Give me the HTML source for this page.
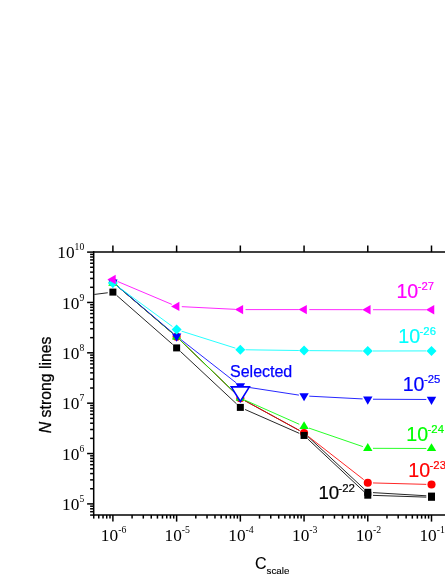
<!DOCTYPE html>
<html><head><meta charset="utf-8"><title>chart</title>
<style>
html,body{margin:0;padding:0;background:#fff;}
body{width:445px;height:576px;overflow:hidden;font-family:"Liberation Sans",sans-serif;}
svg{display:block;}
#wrap{width:445px;height:576px;will-change:transform;}
</style></head><body>
<div id="wrap"><svg width="445" height="576" viewBox="0 0 445 576">
<rect width="445" height="576" fill="#fff"/>
<g id="lines" fill="none">
<line x1="116.85" y1="285.68" x2="172.67" y2="333.42" stroke="#000" stroke-width="0.85"/>
<line x1="180.36" y1="340.41" x2="236.6" y2="394.59" stroke="#000" stroke-width="0.85"/>
<line x1="244.9" y1="400.69" x2="299.5" y2="430.51" stroke="#000" stroke-width="0.85"/>
<line x1="307.87" y1="436.54" x2="363.97" y2="488.76" stroke="#000" stroke-width="0.85"/>
<line x1="372.97" y1="492.61" x2="426.31" y2="495.79" stroke="#000" stroke-width="0.85"/>
<line x1="116.81" y1="295.53" x2="172.71" y2="344.47" stroke="#000" stroke-width="0.85"/>
<line x1="180.42" y1="351.45" x2="236.54" y2="403.85" stroke="#000" stroke-width="0.85"/>
<line x1="245.1" y1="409.5" x2="299.3" y2="433.35" stroke="#000" stroke-width="0.85"/>
<line x1="307.85" y1="439.01" x2="363.99" y2="491.64" stroke="#000" stroke-width="0.85"/>
<line x1="372.98" y1="495.37" x2="426.3" y2="497.13" stroke="#000" stroke-width="0.85"/>
<line x1="116.85" y1="285.68" x2="172.67" y2="333.42" stroke="#ff0000" stroke-width="0.85"/>
<line x1="180.36" y1="340.41" x2="236.6" y2="394.59" stroke="#ff0000" stroke-width="0.85"/>
<line x1="244.9" y1="400.7" x2="299.5" y2="430.6" stroke="#ff0000" stroke-width="0.85"/>
<line x1="308.16" y1="436.3" x2="363.68" y2="479.6" stroke="#ff0000" stroke-width="0.85"/>
<line x1="372.98" y1="482.94" x2="426.3" y2="484.36" stroke="#ff0000" stroke-width="0.85"/>
<line x1="116.85" y1="285.58" x2="172.67" y2="333.32" stroke="#00ff00" stroke-width="0.85"/>
<line x1="180.36" y1="340.31" x2="236.6" y2="394.49" stroke="#00ff00" stroke-width="0.85"/>
<line x1="245.09" y1="400.21" x2="299.31" y2="424.29" stroke="#00ff00" stroke-width="0.85"/>
<line x1="308.98" y1="428.09" x2="362.86" y2="446.61" stroke="#00ff00" stroke-width="0.85"/>
<line x1="372.98" y1="448.32" x2="426.3" y2="448.48" stroke="#00ff00" stroke-width="0.85"/>
<line x1="116.87" y1="285.56" x2="172.65" y2="332.84" stroke="#0000ff" stroke-width="0.85"/>
<line x1="180.71" y1="339.41" x2="236.25" y2="382.89" stroke="#0000ff" stroke-width="0.85"/>
<line x1="245.48" y1="386.89" x2="298.92" y2="395.11" stroke="#0000ff" stroke-width="0.85"/>
<line x1="309.25" y1="396.17" x2="362.59" y2="398.93" stroke="#0000ff" stroke-width="0.85"/>
<line x1="372.98" y1="399.22" x2="426.3" y2="399.48" stroke="#0000ff" stroke-width="0.85"/>
<line x1="117.09" y1="285.97" x2="172.43" y2="326.53" stroke="#00ffff" stroke-width="0.85"/>
<line x1="181.58" y1="331.16" x2="235.38" y2="348.14" stroke="#00ffff" stroke-width="0.85"/>
<line x1="245.54" y1="349.77" x2="298.86" y2="350.53" stroke="#00ffff" stroke-width="0.85"/>
<line x1="309.26" y1="350.63" x2="362.58" y2="350.97" stroke="#00ffff" stroke-width="0.85"/>
<line x1="372.98" y1="350.99" x2="426.3" y2="350.91" stroke="#00ffff" stroke-width="0.85"/>
<line x1="117.69" y1="281.52" x2="171.83" y2="304.38" stroke="#ff00ff" stroke-width="0.85"/>
<line x1="181.81" y1="306.66" x2="235.15" y2="309.34" stroke="#ff00ff" stroke-width="0.85"/>
<line x1="245.54" y1="309.6" x2="298.86" y2="309.6" stroke="#ff00ff" stroke-width="0.85"/>
<line x1="309.26" y1="309.61" x2="362.58" y2="309.69" stroke="#ff00ff" stroke-width="0.85"/>
<line x1="372.98" y1="309.71" x2="426.3" y2="309.79" stroke="#ff00ff" stroke-width="0.85"/>
<line x1="107.74" y1="292.75" x2="94.3" y2="294.45" stroke="#000" stroke-width="0.85"/>
<rect x="364.28" y="488.8" width="7" height="7" fill="#000"/>
<rect x="428" y="492.6" width="7" height="7" fill="#000"/>
<circle cx="112.9" cy="282.3" r="4.05" fill="#ff0000"/>
<circle cx="176.62" cy="336.8" r="4.05" fill="#ff0000"/>
<circle cx="240.34" cy="398.2" r="4.05" fill="#ff0000"/>
<circle cx="304.06" cy="433.1" r="4.05" fill="#ff0000"/>
<circle cx="367.78" cy="482.8" r="4.05" fill="#ff0000"/>
<circle cx="431.5" cy="484.5" r="4.05" fill="#ff0000"/>
<path d="M112.9,278 L117.6,285.8 L108.2,285.8 Z" fill="#00ff00"/>
<path d="M176.62,331.8 L181.32,339.6 L171.92,339.6 Z" fill="#00ff00"/>
<path d="M240.34,392.9 L245.04,400.7 L235.64,400.7 Z" fill="#00ff00"/>
<path d="M304.06,421.2 L308.76,429 L299.36,429 Z" fill="#00ff00"/>
<path d="M367.78,443.1 L372.48,450.9 L363.08,450.9 Z" fill="#00ff00"/>
<path d="M431.5,443.3 L436.2,451.1 L426.8,451.1 Z" fill="#00ff00"/>
<path d="M112.9,287.67 L117.6,279.47 L108.2,279.47 Z" fill="#0000ff"/>
<path d="M176.62,341.67 L181.32,333.47 L171.92,333.47 Z" fill="#0000ff"/>
<path d="M240.34,391.57 L245.04,383.37 L235.64,383.37 Z" fill="#0000ff"/>
<path d="M304.06,401.37 L308.76,393.17 L299.36,393.17 Z" fill="#0000ff"/>
<path d="M367.78,404.67 L372.48,396.47 L363.08,396.47 Z" fill="#0000ff"/>
<path d="M431.5,404.97 L436.2,396.77 L426.8,396.77 Z" fill="#0000ff"/>
<path d="M112.9,277.9 L117.9,282.9 L112.9,287.9 L107.9,282.9 Z" fill="#00ffff"/>
<path d="M176.62,324.6 L181.62,329.6 L176.62,334.6 L171.62,329.6 Z" fill="#00ffff"/>
<path d="M240.34,344.7 L245.34,349.7 L240.34,354.7 L235.34,349.7 Z" fill="#00ffff"/>
<path d="M304.06,345.6 L309.06,350.6 L304.06,355.6 L299.06,350.6 Z" fill="#00ffff"/>
<path d="M367.78,346 L372.78,351 L367.78,356 L362.78,351 Z" fill="#00ffff"/>
<path d="M431.5,345.9 L436.5,350.9 L431.5,355.9 L426.5,350.9 Z" fill="#00ffff"/>
<path d="M107.37,279.5 L115.67,274.8 L115.67,284.2 Z" fill="#ff00ff"/>
<path d="M171.09,306.4 L179.39,301.7 L179.39,311.1 Z" fill="#ff00ff"/>
<path d="M234.81,309.6 L243.11,304.9 L243.11,314.3 Z" fill="#ff00ff"/>
<path d="M298.53,309.6 L306.83,304.9 L306.83,314.3 Z" fill="#ff00ff"/>
<path d="M362.25,309.7 L370.55,305 L370.55,314.4 Z" fill="#ff00ff"/>
<path d="M425.97,309.8 L434.27,305.1 L434.27,314.5 Z" fill="#ff00ff"/>
<rect x="109.4" y="288.6" width="7" height="7" fill="#000"/>
<rect x="173.12" y="344.4" width="7" height="7" fill="#000"/>
<rect x="236.84" y="403.9" width="7" height="7" fill="#000"/>
<rect x="300.56" y="431.95" width="7" height="7" fill="#000"/>
<rect x="364.28" y="491.7" width="7" height="7" fill="#000"/>
<rect x="428" y="493.8" width="7" height="7" fill="#000"/>
<path d="M231.25,386.85 L249.35,386.85 L240.3,401.5 Z" fill="#fff" stroke="#0000ff" stroke-width="1.6" stroke-linejoin="miter"/>
</g>
<g id="axes">
<line x1="93.7" y1="251.35" x2="93.7" y2="515.75" stroke="#000" stroke-width="1.5"/>
<line x1="92.95" y1="252.1" x2="446" y2="252.1" stroke="#000" stroke-width="1.5"/>
<line x1="92.95" y1="515" x2="446" y2="515" stroke="#000" stroke-width="1.5"/>
<line x1="87.1" y1="503.9" x2="93.7" y2="503.9" stroke="#000" stroke-width="1.5"/>
<line x1="87.1" y1="453.54" x2="93.7" y2="453.54" stroke="#000" stroke-width="1.5"/>
<line x1="87.1" y1="403.18" x2="93.7" y2="403.18" stroke="#000" stroke-width="1.5"/>
<line x1="87.1" y1="352.82" x2="93.7" y2="352.82" stroke="#000" stroke-width="1.5"/>
<line x1="87.1" y1="302.46" x2="93.7" y2="302.46" stroke="#000" stroke-width="1.5"/>
<line x1="87.1" y1="252.1" x2="93.7" y2="252.1" stroke="#000" stroke-width="1.5"/>
<line x1="90.1" y1="515.07" x2="93.7" y2="515.07" stroke="#000" stroke-width="1.5"/>
<line x1="90.1" y1="511.7" x2="93.7" y2="511.7" stroke="#000" stroke-width="1.5"/>
<line x1="90.1" y1="508.78" x2="93.7" y2="508.78" stroke="#000" stroke-width="1.5"/>
<line x1="90.1" y1="506.2" x2="93.7" y2="506.2" stroke="#000" stroke-width="1.5"/>
<line x1="90.1" y1="488.74" x2="93.7" y2="488.74" stroke="#000" stroke-width="1.5"/>
<line x1="90.1" y1="479.87" x2="93.7" y2="479.87" stroke="#000" stroke-width="1.5"/>
<line x1="90.1" y1="473.58" x2="93.7" y2="473.58" stroke="#000" stroke-width="1.5"/>
<line x1="90.1" y1="468.7" x2="93.7" y2="468.7" stroke="#000" stroke-width="1.5"/>
<line x1="90.1" y1="464.71" x2="93.7" y2="464.71" stroke="#000" stroke-width="1.5"/>
<line x1="90.1" y1="461.34" x2="93.7" y2="461.34" stroke="#000" stroke-width="1.5"/>
<line x1="90.1" y1="458.42" x2="93.7" y2="458.42" stroke="#000" stroke-width="1.5"/>
<line x1="90.1" y1="455.84" x2="93.7" y2="455.84" stroke="#000" stroke-width="1.5"/>
<line x1="90.1" y1="438.38" x2="93.7" y2="438.38" stroke="#000" stroke-width="1.5"/>
<line x1="90.1" y1="429.51" x2="93.7" y2="429.51" stroke="#000" stroke-width="1.5"/>
<line x1="90.1" y1="423.22" x2="93.7" y2="423.22" stroke="#000" stroke-width="1.5"/>
<line x1="90.1" y1="418.34" x2="93.7" y2="418.34" stroke="#000" stroke-width="1.5"/>
<line x1="90.1" y1="414.35" x2="93.7" y2="414.35" stroke="#000" stroke-width="1.5"/>
<line x1="90.1" y1="410.98" x2="93.7" y2="410.98" stroke="#000" stroke-width="1.5"/>
<line x1="90.1" y1="408.06" x2="93.7" y2="408.06" stroke="#000" stroke-width="1.5"/>
<line x1="90.1" y1="405.48" x2="93.7" y2="405.48" stroke="#000" stroke-width="1.5"/>
<line x1="90.1" y1="388.02" x2="93.7" y2="388.02" stroke="#000" stroke-width="1.5"/>
<line x1="90.1" y1="379.15" x2="93.7" y2="379.15" stroke="#000" stroke-width="1.5"/>
<line x1="90.1" y1="372.86" x2="93.7" y2="372.86" stroke="#000" stroke-width="1.5"/>
<line x1="90.1" y1="367.98" x2="93.7" y2="367.98" stroke="#000" stroke-width="1.5"/>
<line x1="90.1" y1="363.99" x2="93.7" y2="363.99" stroke="#000" stroke-width="1.5"/>
<line x1="90.1" y1="360.62" x2="93.7" y2="360.62" stroke="#000" stroke-width="1.5"/>
<line x1="90.1" y1="357.7" x2="93.7" y2="357.7" stroke="#000" stroke-width="1.5"/>
<line x1="90.1" y1="355.12" x2="93.7" y2="355.12" stroke="#000" stroke-width="1.5"/>
<line x1="90.1" y1="337.66" x2="93.7" y2="337.66" stroke="#000" stroke-width="1.5"/>
<line x1="90.1" y1="328.79" x2="93.7" y2="328.79" stroke="#000" stroke-width="1.5"/>
<line x1="90.1" y1="322.5" x2="93.7" y2="322.5" stroke="#000" stroke-width="1.5"/>
<line x1="90.1" y1="317.62" x2="93.7" y2="317.62" stroke="#000" stroke-width="1.5"/>
<line x1="90.1" y1="313.63" x2="93.7" y2="313.63" stroke="#000" stroke-width="1.5"/>
<line x1="90.1" y1="310.26" x2="93.7" y2="310.26" stroke="#000" stroke-width="1.5"/>
<line x1="90.1" y1="307.34" x2="93.7" y2="307.34" stroke="#000" stroke-width="1.5"/>
<line x1="90.1" y1="304.76" x2="93.7" y2="304.76" stroke="#000" stroke-width="1.5"/>
<line x1="90.1" y1="287.3" x2="93.7" y2="287.3" stroke="#000" stroke-width="1.5"/>
<line x1="90.1" y1="278.43" x2="93.7" y2="278.43" stroke="#000" stroke-width="1.5"/>
<line x1="90.1" y1="272.14" x2="93.7" y2="272.14" stroke="#000" stroke-width="1.5"/>
<line x1="90.1" y1="267.26" x2="93.7" y2="267.26" stroke="#000" stroke-width="1.5"/>
<line x1="90.1" y1="263.27" x2="93.7" y2="263.27" stroke="#000" stroke-width="1.5"/>
<line x1="90.1" y1="259.9" x2="93.7" y2="259.9" stroke="#000" stroke-width="1.5"/>
<line x1="90.1" y1="256.98" x2="93.7" y2="256.98" stroke="#000" stroke-width="1.5"/>
<line x1="90.1" y1="254.4" x2="93.7" y2="254.4" stroke="#000" stroke-width="1.5"/>
<line x1="112.9" y1="515" x2="112.9" y2="521.6" stroke="#000" stroke-width="1.5"/>
<line x1="112.9" y1="252.1" x2="112.9" y2="245.5" stroke="#000" stroke-width="1.5"/>
<line x1="176.62" y1="515" x2="176.62" y2="521.6" stroke="#000" stroke-width="1.5"/>
<line x1="176.62" y1="252.1" x2="176.62" y2="245.5" stroke="#000" stroke-width="1.5"/>
<line x1="240.34" y1="515" x2="240.34" y2="521.6" stroke="#000" stroke-width="1.5"/>
<line x1="240.34" y1="252.1" x2="240.34" y2="245.5" stroke="#000" stroke-width="1.5"/>
<line x1="304.06" y1="515" x2="304.06" y2="521.6" stroke="#000" stroke-width="1.5"/>
<line x1="304.06" y1="252.1" x2="304.06" y2="245.5" stroke="#000" stroke-width="1.5"/>
<line x1="367.78" y1="515" x2="367.78" y2="521.6" stroke="#000" stroke-width="1.5"/>
<line x1="367.78" y1="252.1" x2="367.78" y2="245.5" stroke="#000" stroke-width="1.5"/>
<line x1="431.5" y1="515" x2="431.5" y2="521.6" stroke="#000" stroke-width="1.5"/>
<line x1="431.5" y1="252.1" x2="431.5" y2="245.5" stroke="#000" stroke-width="1.5"/>
<line x1="93.72" y1="515" x2="93.72" y2="518.6" stroke="#000" stroke-width="1.5"/>
<line x1="98.76" y1="515" x2="98.76" y2="518.6" stroke="#000" stroke-width="1.5"/>
<line x1="103.03" y1="515" x2="103.03" y2="518.6" stroke="#000" stroke-width="1.5"/>
<line x1="106.72" y1="515" x2="106.72" y2="518.6" stroke="#000" stroke-width="1.5"/>
<line x1="109.98" y1="515" x2="109.98" y2="518.6" stroke="#000" stroke-width="1.5"/>
<line x1="132.08" y1="515" x2="132.08" y2="518.6" stroke="#000" stroke-width="1.5"/>
<line x1="143.3" y1="515" x2="143.3" y2="518.6" stroke="#000" stroke-width="1.5"/>
<line x1="151.26" y1="515" x2="151.26" y2="518.6" stroke="#000" stroke-width="1.5"/>
<line x1="157.44" y1="515" x2="157.44" y2="518.6" stroke="#000" stroke-width="1.5"/>
<line x1="162.48" y1="515" x2="162.48" y2="518.6" stroke="#000" stroke-width="1.5"/>
<line x1="166.75" y1="515" x2="166.75" y2="518.6" stroke="#000" stroke-width="1.5"/>
<line x1="170.44" y1="515" x2="170.44" y2="518.6" stroke="#000" stroke-width="1.5"/>
<line x1="173.7" y1="515" x2="173.7" y2="518.6" stroke="#000" stroke-width="1.5"/>
<line x1="195.8" y1="515" x2="195.8" y2="518.6" stroke="#000" stroke-width="1.5"/>
<line x1="207.02" y1="515" x2="207.02" y2="518.6" stroke="#000" stroke-width="1.5"/>
<line x1="214.98" y1="515" x2="214.98" y2="518.6" stroke="#000" stroke-width="1.5"/>
<line x1="221.16" y1="515" x2="221.16" y2="518.6" stroke="#000" stroke-width="1.5"/>
<line x1="226.2" y1="515" x2="226.2" y2="518.6" stroke="#000" stroke-width="1.5"/>
<line x1="230.47" y1="515" x2="230.47" y2="518.6" stroke="#000" stroke-width="1.5"/>
<line x1="234.16" y1="515" x2="234.16" y2="518.6" stroke="#000" stroke-width="1.5"/>
<line x1="237.42" y1="515" x2="237.42" y2="518.6" stroke="#000" stroke-width="1.5"/>
<line x1="259.52" y1="515" x2="259.52" y2="518.6" stroke="#000" stroke-width="1.5"/>
<line x1="270.74" y1="515" x2="270.74" y2="518.6" stroke="#000" stroke-width="1.5"/>
<line x1="278.7" y1="515" x2="278.7" y2="518.6" stroke="#000" stroke-width="1.5"/>
<line x1="284.88" y1="515" x2="284.88" y2="518.6" stroke="#000" stroke-width="1.5"/>
<line x1="289.92" y1="515" x2="289.92" y2="518.6" stroke="#000" stroke-width="1.5"/>
<line x1="294.19" y1="515" x2="294.19" y2="518.6" stroke="#000" stroke-width="1.5"/>
<line x1="297.88" y1="515" x2="297.88" y2="518.6" stroke="#000" stroke-width="1.5"/>
<line x1="301.14" y1="515" x2="301.14" y2="518.6" stroke="#000" stroke-width="1.5"/>
<line x1="323.24" y1="515" x2="323.24" y2="518.6" stroke="#000" stroke-width="1.5"/>
<line x1="334.46" y1="515" x2="334.46" y2="518.6" stroke="#000" stroke-width="1.5"/>
<line x1="342.42" y1="515" x2="342.42" y2="518.6" stroke="#000" stroke-width="1.5"/>
<line x1="348.6" y1="515" x2="348.6" y2="518.6" stroke="#000" stroke-width="1.5"/>
<line x1="353.64" y1="515" x2="353.64" y2="518.6" stroke="#000" stroke-width="1.5"/>
<line x1="357.91" y1="515" x2="357.91" y2="518.6" stroke="#000" stroke-width="1.5"/>
<line x1="361.6" y1="515" x2="361.6" y2="518.6" stroke="#000" stroke-width="1.5"/>
<line x1="364.86" y1="515" x2="364.86" y2="518.6" stroke="#000" stroke-width="1.5"/>
<line x1="386.96" y1="515" x2="386.96" y2="518.6" stroke="#000" stroke-width="1.5"/>
<line x1="398.18" y1="515" x2="398.18" y2="518.6" stroke="#000" stroke-width="1.5"/>
<line x1="406.14" y1="515" x2="406.14" y2="518.6" stroke="#000" stroke-width="1.5"/>
<line x1="412.32" y1="515" x2="412.32" y2="518.6" stroke="#000" stroke-width="1.5"/>
<line x1="417.36" y1="515" x2="417.36" y2="518.6" stroke="#000" stroke-width="1.5"/>
<line x1="421.63" y1="515" x2="421.63" y2="518.6" stroke="#000" stroke-width="1.5"/>
<line x1="425.32" y1="515" x2="425.32" y2="518.6" stroke="#000" stroke-width="1.5"/>
<line x1="428.58" y1="515" x2="428.58" y2="518.6" stroke="#000" stroke-width="1.5"/>
</g>
<g id="text">
<text x="84.2" y="510" text-anchor="end" font-family="Liberation Serif, serif" font-size="17.3" fill="#000">10<tspan font-size="9.6" dy="-8">5</tspan></text>
<text x="84.2" y="459.64" text-anchor="end" font-family="Liberation Serif, serif" font-size="17.3" fill="#000">10<tspan font-size="9.6" dy="-8">6</tspan></text>
<text x="84.2" y="409.28" text-anchor="end" font-family="Liberation Serif, serif" font-size="17.3" fill="#000">10<tspan font-size="9.6" dy="-8">7</tspan></text>
<text x="84.2" y="358.92" text-anchor="end" font-family="Liberation Serif, serif" font-size="17.3" fill="#000">10<tspan font-size="9.6" dy="-8">8</tspan></text>
<text x="84.2" y="308.56" text-anchor="end" font-family="Liberation Serif, serif" font-size="17.3" fill="#000">10<tspan font-size="9.6" dy="-8">9</tspan></text>
<text x="84.2" y="258.2" text-anchor="end" font-family="Liberation Serif, serif" font-size="17.3" fill="#000">10<tspan font-size="9.6" dy="-8">10</tspan></text>
<text x="100.85" y="541.3" font-family="Liberation Serif, serif" font-size="17.3" fill="#000">10<tspan font-size="9.8" dy="-8.3">-6</tspan></text>
<text x="164.57" y="541.3" font-family="Liberation Serif, serif" font-size="17.3" fill="#000">10<tspan font-size="9.8" dy="-8.3">-5</tspan></text>
<text x="228.29" y="541.3" font-family="Liberation Serif, serif" font-size="17.3" fill="#000">10<tspan font-size="9.8" dy="-8.3">-4</tspan></text>
<text x="292.01" y="541.3" font-family="Liberation Serif, serif" font-size="17.3" fill="#000">10<tspan font-size="9.8" dy="-8.3">-3</tspan></text>
<text x="355.73" y="541.3" font-family="Liberation Serif, serif" font-size="17.3" fill="#000">10<tspan font-size="9.8" dy="-8.3">-2</tspan></text>
<text x="419.45" y="541.3" font-family="Liberation Serif, serif" font-size="17.3" fill="#000">10<tspan font-size="9.8" dy="-8.3">-1</tspan></text>
<text transform="translate(50.8,433.2) rotate(-90)" font-family="Liberation Sans, sans-serif" font-size="15.8" fill="#000" stroke="#000" stroke-width="0.25"><tspan font-style="italic">N</tspan> strong lines</text>
<text x="255" y="568.6" font-family="Liberation Sans, sans-serif" font-size="16" fill="#000" stroke="#000" stroke-width="0.12">C<tspan font-size="9.8" dy="5.2">scale</tspan></text>
<text x="396.4" y="298.2" font-family="Liberation Sans, sans-serif" font-size="19.6" fill="#ff00ff" stroke="#ff00ff" stroke-width="0.2">10<tspan font-size="11.3" dx="-0.5" dy="-8">-27</tspan></text>
<text x="398.3" y="343.2" font-family="Liberation Sans, sans-serif" font-size="19.6" fill="#00ffff" stroke="#00ffff" stroke-width="0.2">10<tspan font-size="11.3" dx="-0.5" dy="-8">-26</tspan></text>
<text x="402.7" y="390.9" font-family="Liberation Sans, sans-serif" font-size="19.6" fill="#0000ff" stroke="#0000ff" stroke-width="0.2">10<tspan font-size="11.3" dx="-0.5" dy="-8">-25</tspan></text>
<text x="406.3" y="440.9" font-family="Liberation Sans, sans-serif" font-size="19.6" fill="#00ff00" stroke="#00ff00" stroke-width="0.2">10<tspan font-size="11.3" dx="-0.5" dy="-8">-24</tspan></text>
<text x="408.3" y="477.1" font-family="Liberation Sans, sans-serif" font-size="19.6" fill="#ff0000" stroke="#ff0000" stroke-width="0.2">10<tspan font-size="11.3" dx="-0.5" dy="-8">-23</tspan></text>
<text x="318.4" y="499.4" font-family="Liberation Sans, sans-serif" font-size="18.7" fill="#000" stroke="#000" stroke-width="0.2">10<tspan font-size="11.5" dx="-0.9" dy="-7.2">-22</tspan></text>
<text x="230" y="376.6" font-family="Liberation Sans, sans-serif" font-size="16" fill="#0000ff" stroke="#0000ff" stroke-width="0.25">Selected</text>
</g>
</svg></div>
</body></html>
